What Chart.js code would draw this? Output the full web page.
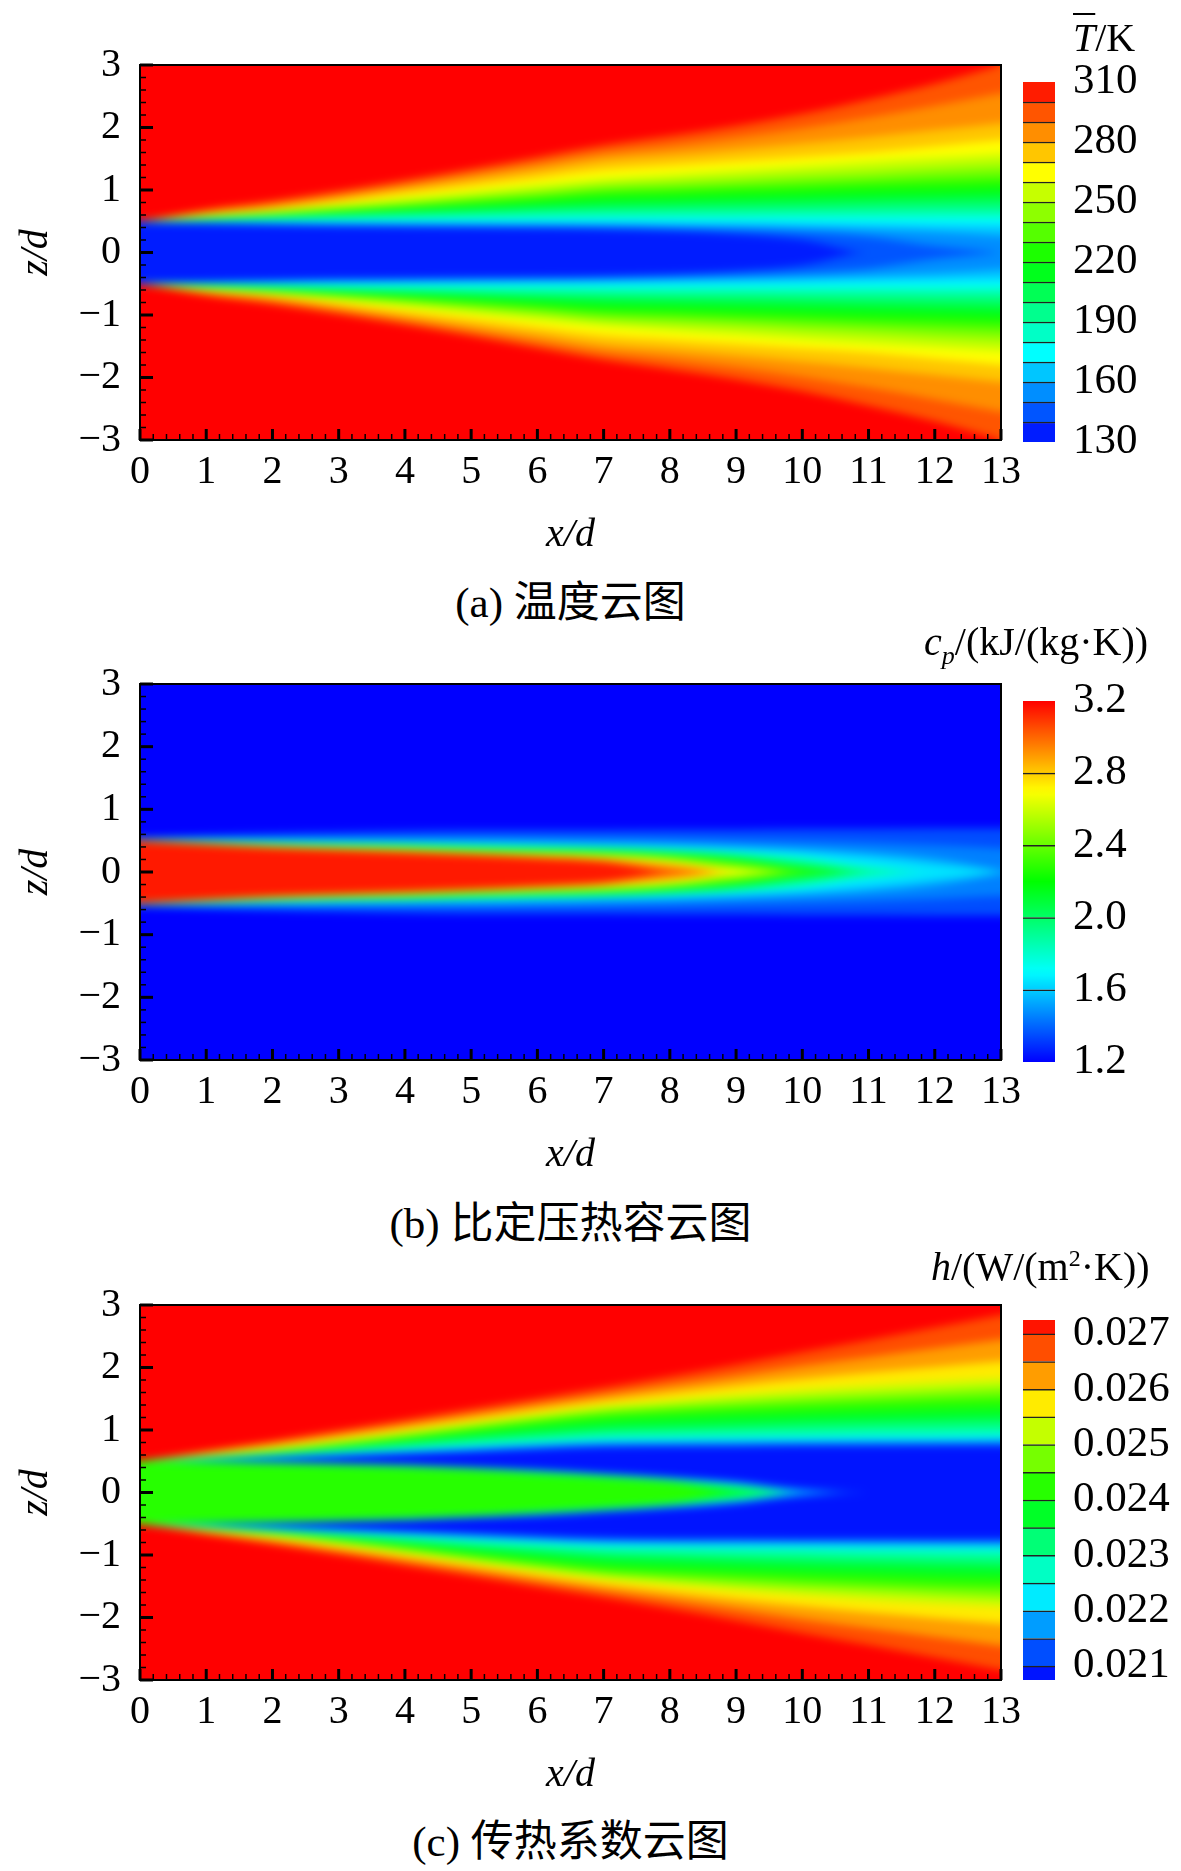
<!DOCTYPE html>
<html>
<head>
<meta charset="utf-8">
<script src="https://cdn.jsdelivr.net/npm/chart.js@4.4.1/dist/chart.umd.min.js"></script>
<style>
body { margin: 0; background: #fff; width: 1181px; height: 1871px; position: relative; overflow: hidden;
       font-family: "Liberation Serif", "Noto Sans CJK SC", serif; color: #000; }
canvas { position: absolute; }
.lbl { position: absolute; white-space: nowrap; font-size: 40px; line-height: 1; }
.cap { position: absolute; left: 0; width: 1141px; text-align: center; font-size: 43px; line-height: 1; }
</style>
</head>
<body>
<canvas id="fieldA" width="1030" height="540" style="left:0;top:20px"></canvas>
<canvas id="barA" width="181" height="452" style="left:1000px;top:36px"></canvas>
<div class="lbl" style="left:1073px;top:18px"><i style="text-decoration:overline;text-decoration-thickness:2px">T</i>/K</div>
<div class="cap" style="top:581px">(a) 温度云图</div>

<canvas id="fieldB" width="1030" height="541" style="left:0;top:639px"></canvas>
<canvas id="barB" width="181" height="453" style="left:1000px;top:655px"></canvas>
<div class="lbl" style="left:924px;top:622px"><i>c<sub style="font-size:26px">p</sub></i>/(kJ/(kg·K))</div>
<div class="cap" style="top:1202px">(b) 比定压热容云图</div>

<canvas id="fieldC" width="1030" height="540" style="left:0;top:1260px"></canvas>
<canvas id="barC" width="181" height="452" style="left:1000px;top:1274px"></canvas>
<div class="lbl" style="left:931px;top:1246px"><i>h</i>/(W/(m<sup style="font-size:24px">2</sup>·K))</div>
<div class="cap" style="top:1820px">(c) 传热系数云图</div>

<script>
// stations along the jet where contour half-widths were read (x/d)
const xStations = [0, 1, 2, 3, 4, 5, 6, 7, 8, 9, 10, 11, 12, 13];

// (a) temperature: half-width z/d of each isotherm, region inside is colder
const tempRange = [130, 310];
const tempTicks = [130, 160, 190, 220, 250, 280, 310];
const tempLevels = [140, 150, 160, 170, 180, 190, 200, 210, 220, 230, 240, 250, 260, 270, 280, 290, 300];
const tempHalfWidth = [
  [0.48, 0.46, 0.44, 0.42, 0.41, 0.40, 0.39, 0.37, 0.34, 0.29, 0.20, 0.00, 0.00, 0.00],
  [0.49, 0.47, 0.455, 0.44, 0.43, 0.42, 0.415, 0.41, 0.39, 0.36, 0.32, 0.25, 0.10, 0.00],
  [0.49, 0.48, 0.47, 0.46, 0.455, 0.45, 0.445, 0.44, 0.43, 0.42, 0.40, 0.37, 0.33, 0.27],
  [0.50, 0.495, 0.49, 0.49, 0.49, 0.49, 0.49, 0.49, 0.485, 0.48, 0.47, 0.46, 0.45, 0.44],
  [0.50, 0.51, 0.52, 0.53, 0.53, 0.54, 0.54, 0.55, 0.55, 0.55, 0.55, 0.55, 0.55, 0.55],
  [0.50, 0.52, 0.54, 0.56, 0.58, 0.59, 0.61, 0.62, 0.63, 0.63, 0.64, 0.64, 0.65, 0.65],
  [0.50, 0.53, 0.56, 0.59, 0.62, 0.65, 0.68, 0.70, 0.71, 0.72, 0.73, 0.75, 0.76, 0.77],
  [0.50, 0.54, 0.58, 0.62, 0.66, 0.70, 0.74, 0.78, 0.80, 0.82, 0.84, 0.86, 0.88, 0.90],
  [0.50, 0.55, 0.60, 0.65, 0.70, 0.75, 0.81, 0.87, 0.89, 0.92, 0.95, 0.98, 1.00, 1.03],
  [0.50, 0.56, 0.61, 0.67, 0.73, 0.80, 0.87, 0.95, 0.98, 1.02, 1.05, 1.09, 1.12, 1.15],
  [0.50, 0.57, 0.63, 0.70, 0.77, 0.85, 0.93, 1.02, 1.06, 1.10, 1.15, 1.19, 1.24, 1.28],
  [0.50, 0.58, 0.65, 0.73, 0.81, 0.91, 1.00, 1.10, 1.15, 1.20, 1.26, 1.31, 1.37, 1.42],
  [0.50, 0.59, 0.66, 0.76, 0.87, 0.97, 1.08, 1.18, 1.25, 1.32, 1.39, 1.46, 1.52, 1.58],
  [0.50, 0.61, 0.69, 0.81, 0.94, 1.06, 1.19, 1.32, 1.39, 1.46, 1.53, 1.60, 1.70, 1.80],
  [0.50, 0.63, 0.73, 0.87, 1.02, 1.17, 1.32, 1.48, 1.56, 1.65, 1.75, 1.85, 1.96, 2.07],
  [0.50, 0.66, 0.78, 0.93, 1.09, 1.26, 1.43, 1.60, 1.71, 1.84, 1.99, 2.16, 2.35, 2.55],
  [0.50, 0.69, 0.83, 0.99, 1.16, 1.34, 1.53, 1.72, 1.87, 2.03, 2.22, 2.45, 2.70, 3.00]
];

// (b) specific heat: region inside each contour is above the level
const cpRange = [1.2, 3.2];
const cpTicks = [1.2, 1.6, 2.0, 2.4, 2.8, 3.2];
const cpBarEdges = [1.2, 1.6, 2.0, 2.4, 2.8, 3.2];
const cpLevels = [1.3, 1.4, 1.5, 1.6, 1.7, 1.8, 1.9, 2.0, 2.2, 2.4, 2.6, 2.8, 3.0, 3.1];
const cpHalfWidth = [
  [0.55, 0.59, 0.62, 0.64, 0.66, 0.67, 0.67, 0.67, 0.68, 0.68, 0.69, 0.69, 0.70, 0.70],
  [0.54, 0.55, 0.555, 0.56, 0.56, 0.56, 0.555, 0.55, 0.54, 0.52, 0.50, 0.47, 0.43, 0.38],
  [0.53, 0.525, 0.52, 0.515, 0.51, 0.50, 0.49, 0.47, 0.45, 0.42, 0.38, 0.32, 0.22, 0.03],
  [0.525, 0.51, 0.50, 0.49, 0.48, 0.47, 0.45, 0.43, 0.41, 0.37, 0.32, 0.24, 0.12, 0.00],
  [0.52, 0.50, 0.48, 0.465, 0.46, 0.44, 0.42, 0.40, 0.37, 0.33, 0.26, 0.10, 0.00, 0.00],
  [0.515, 0.49, 0.47, 0.45, 0.44, 0.42, 0.40, 0.385, 0.35, 0.30, 0.21, 0.06, 0.00, 0.00],
  [0.51, 0.485, 0.46, 0.44, 0.43, 0.40, 0.385, 0.37, 0.33, 0.27, 0.16, 0.02, 0.00, 0.00],
  [0.51, 0.48, 0.45, 0.43, 0.42, 0.39, 0.37, 0.35, 0.31, 0.24, 0.10, 0.00, 0.00, 0.00],
  [0.505, 0.47, 0.44, 0.42, 0.40, 0.37, 0.34, 0.32, 0.27, 0.18, 0.04, 0.00, 0.00, 0.00],
  [0.505, 0.465, 0.43, 0.40, 0.38, 0.34, 0.31, 0.28, 0.22, 0.11, 0.00, 0.00, 0.00, 0.00],
  [0.50, 0.46, 0.42, 0.39, 0.36, 0.32, 0.29, 0.25, 0.18, 0.04, 0.00, 0.00, 0.00, 0.00],
  [0.50, 0.45, 0.40, 0.37, 0.34, 0.30, 0.26, 0.21, 0.12, 0.00, 0.00, 0.00, 0.00, 0.00],
  [0.495, 0.44, 0.39, 0.35, 0.32, 0.28, 0.235, 0.18, 0.04, 0.00, 0.00, 0.00, 0.00, 0.00],
  [0.49, 0.43, 0.38, 0.34, 0.30, 0.26, 0.21, 0.15, 0.00, 0.00, 0.00, 0.00, 0.00, 0.00]
];

// (c) heat transfer coefficient: outer contours (inside lower) and core contours (inside higher)
const hRange = [0.02075, 0.02725];
const hTicks = [0.021, 0.022, 0.023, 0.024, 0.025, 0.026, 0.027];
const hOuterLevels = [0.021, 0.0215, 0.022, 0.0225, 0.023, 0.0235, 0.024, 0.0245, 0.025, 0.0255, 0.026, 0.0265, 0.027];
const hOuterHalfWidth = [
  [0.50, 0.51, 0.53, 0.57, 0.61, 0.65, 0.69, 0.72, 0.73, 0.73, 0.74, 0.74, 0.74, 0.74],
  [0.50, 0.52, 0.55, 0.59, 0.63, 0.67, 0.72, 0.76, 0.77, 0.77, 0.78, 0.78, 0.79, 0.79],
  [0.50, 0.53, 0.57, 0.61, 0.66, 0.71, 0.76, 0.80, 0.81, 0.82, 0.82, 0.83, 0.83, 0.84],
  [0.50, 0.54, 0.59, 0.64, 0.69, 0.75, 0.80, 0.85, 0.86, 0.87, 0.88, 0.89, 0.89, 0.90],
  [0.50, 0.55, 0.61, 0.67, 0.74, 0.81, 0.87, 0.93, 0.95, 0.97, 0.98, 1.00, 1.01, 1.02],
  [0.50, 0.56, 0.62, 0.70, 0.79, 0.88, 0.96, 1.03, 1.06, 1.09, 1.12, 1.14, 1.16, 1.18],
  [0.50, 0.57, 0.63, 0.73, 0.84, 0.95, 1.06, 1.15, 1.20, 1.24, 1.27, 1.30, 1.33, 1.35],
  [0.50, 0.58, 0.66, 0.77, 0.89, 1.02, 1.14, 1.25, 1.31, 1.36, 1.41, 1.45, 1.49, 1.52],
  [0.50, 0.59, 0.68, 0.80, 0.93, 1.07, 1.20, 1.32, 1.40, 1.47, 1.53, 1.58, 1.63, 1.68],
  [0.50, 0.60, 0.70, 0.83, 0.97, 1.11, 1.25, 1.38, 1.47, 1.56, 1.64, 1.71, 1.77, 1.82],
  [0.50, 0.63, 0.75, 0.89, 1.03, 1.18, 1.33, 1.47, 1.59, 1.71, 1.82, 1.92, 2.01, 2.10],
  [0.50, 0.65, 0.79, 0.94, 1.10, 1.26, 1.42, 1.57, 1.72, 1.87, 2.03, 2.17, 2.31, 2.45],
  [0.50, 0.67, 0.83, 1.00, 1.17, 1.34, 1.51, 1.68, 1.86, 2.05, 2.25, 2.44, 2.64, 2.84]
];
const hCoreLevels = [0.021, 0.0215, 0.022, 0.0225, 0.023, 0.0235, 0.024];
const hCoreTop = 0.0245;
const hCoreHalfWidth = [
  [0.50, 0.50, 0.49, 0.47, 0.45, 0.41, 0.37, 0.31, 0.25, 0.18, 0.06, 0.00, 0.00, 0.00],
  [0.50, 0.495, 0.485, 0.465, 0.44, 0.40, 0.36, 0.30, 0.24, 0.16, 0.04, 0.00, 0.00, 0.00],
  [0.50, 0.495, 0.48, 0.46, 0.435, 0.395, 0.35, 0.29, 0.225, 0.14, 0.01, 0.00, 0.00, 0.00],
  [0.50, 0.49, 0.475, 0.455, 0.43, 0.39, 0.34, 0.28, 0.21, 0.12, 0.00, 0.00, 0.00, 0.00],
  [0.50, 0.49, 0.47, 0.45, 0.42, 0.38, 0.33, 0.27, 0.195, 0.09, 0.00, 0.00, 0.00, 0.00],
  [0.50, 0.485, 0.465, 0.44, 0.41, 0.37, 0.31, 0.25, 0.18, 0.05, 0.00, 0.00, 0.00, 0.00],
  [0.50, 0.48, 0.46, 0.43, 0.40, 0.36, 0.29, 0.23, 0.16, 0.00, 0.00, 0.00, 0.00, 0.00]
];

// Tecplot-like small rainbow
const rainbow = [[0, 0, 0, 255], [0.25, 0, 255, 255], [0.5, 0, 255, 0], [0.75, 255, 255, 0], [1, 255, 0, 0]];
function colorAt(v, range) {
  let t = (v - range[0]) / (range[1] - range[0]);
  t = Math.max(0, Math.min(1, t));
  for (let i = 1; i < rainbow.length; i++) {
    if (t <= rainbow[i][0]) {
      const a = rainbow[i - 1], b = rainbow[i];
      const f = (t - a[0]) / (b[0] - a[0]);
      const c = [1, 2, 3].map(k => Math.round(a[k] + (b[k] - a[k]) * f));
      return 'rgb(' + c.join(',') + ')';
    }
  }
  return 'rgb(255,0,0)';
}

// region inside contour holds values below the level
function belowBands(levels, widths, range) {
  return levels.map((L, i) => ({ row: widths[i], color: colorAt(((i ? levels[i - 1] : range[0]) + L) / 2, range) }));
}
// region inside contour holds values above the level
function aboveBands(levels, widths, range, top) {
  return levels.map((L, i) => ({ row: widths[i], color: colorAt((L + (i < levels.length - 1 ? levels[i + 1] : top)) / 2, range) }));
}

// each band = upper curve filled down to its mirrored lower curve
function toDatasets(paintList) {
  const sets = [];
  paintList.slice().reverse().forEach(b => {
    sets.push({ data: xStations.map((x, i) => ({ x: x, y: b.row[i] })), fill: '+1', backgroundColor: b.color });
    sets.push({ data: xStations.map((x, i) => ({ x: x, y: -b.row[i] })), fill: false });
  });
  return sets;
}

const framePlugin = bg => ({
  id: 'frame',
  beforeDraw(chart) {
    const { ctx, chartArea: a } = chart;
    ctx.save();
    ctx.fillStyle = bg;
    ctx.fillRect(a.left, a.top, a.right - a.left, a.bottom - a.top);
    ctx.restore();
  },
  // soften the flood bands so the field reads as a continuous contour flood
  afterDatasetsDraw(chart) {
    const { ctx, canvas, chartArea: a } = chart;
    const x0 = Math.round(a.left), y0 = Math.round(a.top);
    const w = Math.round(a.right) - x0, h = Math.round(a.bottom) - y0, p = 14;
    const off = document.createElement('canvas');
    off.width = w + 2 * p; off.height = h + 2 * p;
    const o = off.getContext('2d');
    o.drawImage(canvas, x0, y0, w, h, p, p, w, h);
    o.drawImage(canvas, x0, y0, 1, h, 0, p, p, h);
    o.drawImage(canvas, x0 + w - 1, y0, 1, h, p + w, p, p, h);
    o.drawImage(off, 0, p, w + 2 * p, 1, 0, 0, w + 2 * p, p);
    o.drawImage(off, 0, p + h - 1, w + 2 * p, 1, 0, p + h, w + 2 * p, p);
    ctx.save();
    ctx.beginPath();
    ctx.rect(x0, y0, w, h);
    ctx.clip();
    ctx.filter = 'blur(4px)';
    ctx.drawImage(off, x0 - p, y0 - p);
    ctx.restore();
  },
  afterDraw(chart) {
    const { ctx, chartArea: a, scales } = chart;
    ctx.save();
    ctx.strokeStyle = '#000';
    for (let k = 0; k <= 65; k++) {
      const px = scales.x.getPixelForValue(k * 0.2);
      const major = k % 5 === 0;
      ctx.lineWidth = major ? 3 : 1.5;
      ctx.beginPath();
      ctx.moveTo(px, a.bottom);
      ctx.lineTo(px, a.bottom - (major ? 11 : 6));
      ctx.stroke();
    }
    for (let k = 0; k <= 30; k++) {
      const py = scales.y.getPixelForValue(-3 + k * 0.2);
      const major = k % 5 === 0;
      ctx.lineWidth = major ? 3 : 1.5;
      ctx.beginPath();
      ctx.moveTo(a.left, py);
      ctx.lineTo(a.left + (major ? 13 : 6), py);
      ctx.stroke();
    }
    ctx.lineWidth = 2;
    ctx.strokeRect(a.left, a.top, a.right - a.left, a.bottom - a.top);
    ctx.restore();
  }
});

Chart.defaults.font.family = '"Liberation Serif", serif';
Chart.defaults.font.size = 40;
Chart.defaults.color = '#000';

function fieldChart(id, paintList, bg) {
  return new Chart(document.getElementById(id), {
    type: 'line',
    data: { datasets: toDatasets(paintList) },
    options: {
      responsive: false,
      animation: false,
      devicePixelRatio: 1,
      layout: { padding: { left: 0, right: 29, top: 45, bottom: 0 } },
      plugins: { legend: { display: false }, tooltip: { enabled: false } },
      elements: {
        point: { radius: 0 },
        line: { borderWidth: 0, cubicInterpolationMode: 'monotone' }
      },
      scales: {
        x: {
          type: 'linear', min: 0, max: 13,
          afterFit: s => { s.height = 120; },
          grid: { display: false, drawTicks: false },
          border: { display: false },
          ticks: { stepSize: 1, padding: 8, autoSkip: false, maxRotation: 0 },
          title: { display: true, text: 'x/d', font: { size: 40, style: 'italic' }, padding: { top: 0, bottom: 1 } }
        },
        y: {
          type: 'linear', min: -3, max: 3,
          afterFit: s => { s.width = 140; },
          grid: { display: false, drawTicks: false },
          border: { display: false },
          ticks: { stepSize: 1, padding: 19, callback: v => v < 0 ? '\u2212' + Math.abs(v) : String(v) },
          title: { display: true, text: 'z/d', font: { size: 40, style: 'italic' }, padding: { top: 12, bottom: 0 } }
        }
      }
    },
    plugins: [framePlugin(bg)]
  });
}

function colorbarChart(id, edges, range, ticks, fmt, gradient) {
  const datasets = [];
  for (let i = 0; i < edges.length - 1; i++) {
    const lo = edges[i], hi = edges[i + 1];
    datasets.push({
      data: [[lo, hi]],
      backgroundColor: gradient ? (c => {
        const ys = c.chart.scales.y;
        if (!c.chart.chartArea || !ys) return colorAt((lo + hi) / 2, range);
        const g = c.chart.ctx.createLinearGradient(0, ys.getPixelForValue(lo), 0, ys.getPixelForValue(hi));
        for (let k = 0; k <= 10; k++) g.addColorStop(k / 10, colorAt(lo + (hi - lo) * k / 10, range));
        return g;
      }) : colorAt((lo + hi) / 2, range),
      borderColor: '#222',
      borderWidth: { top: i < edges.length - 2 ? 1.5 : 0, bottom: 0, left: 0, right: 0 },
      borderSkipped: false,
      grouped: false,
      barPercentage: 1,
      categoryPercentage: 1
    });
  }
  return new Chart(document.getElementById(id), {
    type: 'bar',
    data: { labels: ['bar'], datasets: datasets },
    options: {
      responsive: false,
      animation: false,
      devicePixelRatio: 1,
      layout: { padding: { left: 23, right: 0, top: 46, bottom: 46 } },
      plugins: { legend: { display: false }, tooltip: { enabled: false } },
      scales: {
        x: { display: false },
        y: {
          position: 'right', min: range[0], max: range[1],
          afterFit: s => { s.width = 126; },
          afterBuildTicks: s => { s.ticks = ticks.map(v => ({ value: v })); },
          grid: { display: false, drawTicks: false },
          border: { display: false },
          ticks: { padding: 18, font: { size: 43 }, callback: v => fmt(v) }
        }
      }
    }
  });
}

fieldChart('fieldA', belowBands(tempLevels, tempHalfWidth, tempRange).reverse(), colorAt(tempRange[1], tempRange));
colorbarChart('barA', [tempRange[0]].concat(tempLevels, [tempRange[1]]), tempRange, tempTicks, v => String(Math.round(v)), false);

fieldChart('fieldB', aboveBands(cpLevels, cpHalfWidth, cpRange, cpRange[1]), colorAt(cpRange[0], cpRange));
colorbarChart('barB', cpBarEdges, cpRange, cpTicks, v => v.toFixed(1), true);

fieldChart('fieldC',
  belowBands(hOuterLevels, hOuterHalfWidth, hRange).reverse().concat(aboveBands(hCoreLevels, hCoreHalfWidth, hRange, hCoreTop)),
  colorAt(hRange[1], hRange));
colorbarChart('barC', [hRange[0]].concat(hOuterLevels, [hRange[1]]), hRange, hTicks, v => v.toFixed(3), false);
</script>
</body>
</html>
